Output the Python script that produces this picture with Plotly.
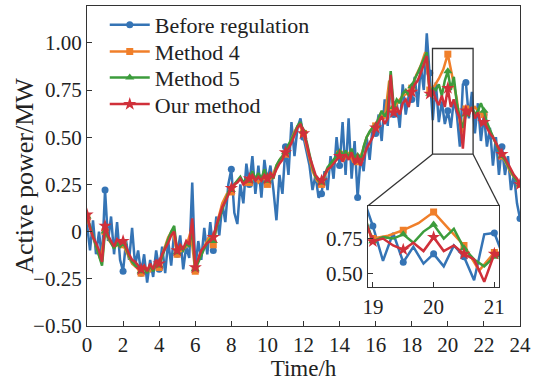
import numpy as np
import plotly.graph_objects as go

# ---- data -----------------------------------------------------------------
# Active power (MW), 10-min samples for 0..24 h (6 per hour + final point)
before_regulation = [
    0.04, -0.10, 0.06, -0.12, 0.00, -0.15,
    0.22, -0.05, 0.08, -0.12, 0.05, -0.15,
    -0.21, -0.05, -0.15, 0.02, -0.18, -0.10,
    -0.22, -0.12, -0.27, -0.15, -0.24, -0.10,
    -0.20, -0.08, -0.22, -0.05, -0.18, 0.00,
    -0.12, -0.02, -0.20, -0.08, -0.14, 0.26,
    -0.20, -0.05, -0.15, 0.02, -0.12, 0.05,
    -0.10, 0.08, -0.02, 0.15, 0.05, 0.25,
    0.33, 0.10, 0.04, 0.25, 0.15, 0.36,
    0.25, 0.40, 0.20, 0.35, 0.18, 0.38,
    0.26, 0.35, 0.22, 0.06, 0.30, 0.20,
    0.45, 0.30, 0.58, 0.40, 0.55, 0.60,
    0.50, 0.42, 0.35, 0.22, 0.30, 0.18,
    0.20, 0.32, 0.22, 0.40, 0.28, 0.50,
    0.35, 0.58, 0.30, 0.60, 0.28, 0.48,
    0.18, 0.40, 0.32, 0.50, 0.38, 0.56,
    0.52, 0.62, 0.48, 0.70, 0.56, 0.78,
    0.62, 0.68, 0.55, 0.78, 0.62, 0.72,
    0.70, 0.82, 0.66, 0.88, 0.75, 1.05,
    0.84, 0.59, 0.79, 0.58, 0.69, 0.57,
    0.64, 0.55, 0.70, 0.62, 0.45, 0.78,
    0.79, 0.60, 0.74, 0.52, 0.68, 0.48,
    0.62, 0.45, 0.55, 0.35, 0.50, 0.30,
    0.45, 0.30, 0.40, 0.22, 0.30, 0.15,
    0.07,
]

# Method 4, 15-min samples (4 per hour + final point)
method_4 = [
    0.07, 0.00, -0.08, -0.15,
    0.00, -0.05, -0.08, -0.07,
    -0.07, -0.12, -0.17, -0.19,
    -0.22, -0.19, -0.21, -0.18,
    -0.19, -0.10, -0.03, 0.01,
    -0.12, -0.10, -0.08, 0.00,
    -0.21, -0.12, -0.08, -0.03,
    -0.07, 0.06, 0.15, 0.20,
    0.21, 0.26, 0.28, 0.25,
    0.26, 0.29, 0.26, 0.29,
    0.25, 0.29, 0.35, 0.39,
    0.41, 0.47, 0.53, 0.57,
    0.52, 0.42, 0.32, 0.27,
    0.25, 0.31, 0.35, 0.38,
    0.41, 0.38, 0.42, 0.37,
    0.37, 0.42, 0.50, 0.54,
    0.56, 0.62, 0.60, 0.80,
    0.65, 0.69, 0.72, 0.73,
    0.76, 0.83, 0.88, 0.95,
    0.75, 0.77, 0.81, 0.86,
    0.94, 0.82, 0.70, 0.52,
    0.65, 0.64, 0.66, 0.63,
    0.62, 0.55, 0.50, 0.45,
    0.40, 0.36, 0.31, 0.28,
    0.25,
]

# Method 5, 10-min samples
method_5 = [
    0.08, 0.03, -0.02, -0.07, -0.12, -0.18,
    0.00, -0.03, -0.06, -0.09, -0.06, -0.08,
    -0.06, -0.09, -0.13, -0.16, -0.18, -0.19,
    -0.21, -0.19, -0.22, -0.18, -0.21, -0.16,
    -0.18, -0.13, -0.08, -0.04, 0.00, 0.03,
    -0.11, -0.08, -0.10, -0.06, -0.08, 0.02,
    -0.20, -0.16, -0.12, -0.09, -0.06, -0.04,
    -0.05, 0.02, 0.07, 0.12, 0.17, 0.21,
    0.22, 0.25, 0.27, 0.29, 0.26, 0.28,
    0.27, 0.32, 0.28, 0.31, 0.28, 0.33,
    0.27, 0.30, 0.28, 0.35, 0.38, 0.40,
    0.42, 0.46, 0.49, 0.52, 0.56, 0.58,
    0.53, 0.48, 0.41, 0.34, 0.29, 0.27,
    0.26, 0.30, 0.34, 0.36, 0.38, 0.40,
    0.42, 0.38, 0.43, 0.39, 0.44, 0.38,
    0.40, 0.37, 0.45, 0.50, 0.53, 0.55,
    0.56, 0.60, 0.64, 0.61, 0.64, 0.85,
    0.66, 0.70, 0.68, 0.73, 0.75, 0.72,
    0.77, 0.81, 0.84, 0.88, 0.92, 0.95,
    0.73, 0.76, 0.75, 0.78, 0.72, 0.80,
    0.85, 0.75, 0.82, 0.68, 0.60, 0.55,
    0.62, 0.63, 0.66, 0.62, 0.64, 0.68,
    0.64, 0.58, 0.54, 0.50, 0.46, 0.43,
    0.40, 0.38, 0.35, 0.32, 0.29, 0.27,
    0.25,
]

# Our method, 10-min samples
our_method = [
    0.09, 0.02, -0.03, -0.06, -0.10, -0.16,
    0.03, -0.02, -0.05, -0.08, -0.04, -0.06,
    -0.05, -0.08, -0.12, -0.15, -0.16, -0.18,
    -0.20, -0.18, -0.21, -0.17, -0.20, -0.15,
    -0.17, -0.12, -0.09, -0.06, -0.02, 0.00,
    -0.10, -0.07, -0.09, -0.05, -0.07, 0.07,
    -0.19, -0.14, -0.10, -0.08, -0.06, -0.05,
    -0.03, 0.03, 0.08, 0.13, 0.16, 0.20,
    0.23, 0.25, 0.26, 0.28, 0.25, 0.27,
    0.28, 0.30, 0.27, 0.29, 0.27, 0.30,
    0.28, 0.31, 0.29, 0.33, 0.36, 0.38,
    0.42, 0.44, 0.47, 0.51, 0.55, 0.57,
    0.52, 0.47, 0.40, 0.35, 0.30, 0.28,
    0.27, 0.30, 0.33, 0.34, 0.36, 0.38,
    0.40, 0.37, 0.41, 0.38, 0.42, 0.36,
    0.38, 0.35, 0.40, 0.44, 0.47, 0.50,
    0.55, 0.58, 0.61, 0.57, 0.60, 0.83,
    0.63, 0.66, 0.62, 0.68, 0.70, 0.66,
    0.74, 0.78, 0.80, 0.84, 0.88, 0.93,
    0.73, 0.75, 0.70, 0.67, 0.72, 0.66,
    0.76, 0.66, 0.70, 0.64, 0.60, 0.44,
    0.64, 0.62, 0.66, 0.60, 0.63, 0.57,
    0.58, 0.55, 0.52, 0.50, 0.47, 0.44,
    0.41, 0.39, 0.36, 0.33, 0.30, 0.28,
    0.25,
]

x_ticks = [0, 2, 4, 6, 8, 10, 12, 14, 16, 18, 20, 22, 24]
y_ticks = [-0.50, -0.25, 0, 0.25, 0.50, 0.75, 1.00]
y_tick_text = ["\u22120.50", "\u22120.25", "0", "0.25", "0.50", "0.75", "1.00"]
inset_x_ticks = [19, 20, 21]
inset_y_ticks = [0.50, 0.75]
inset_y_tick_text = ["0.50", "0.75"]

# ---- styling --------------------------------------------------------------
FONT = "Liberation Serif"
series = [
    ("Before regulation", before_regulation, 6, "#3574b5", "circle", 7),
    ("Method 4", method_4, 4, "#f07f2a", "square", 7),
    ("Method 5", method_5, 6, "#3c9c3c", "triangle-up", 8),
    ("Our method", our_method, 6, "#d0303a", "star", 10),
]
legend_ids = ["legend", "legend2", "legend3", "legend4"]
legend_rows_y = [0.941, 0.857, 0.776, 0.693]

X_MAIN = [0, 24]
Y_MAIN = [-0.5, 1.195]
X_INSET = [18.92, 21.08]
Y_INSET = [0.40, 0.986]
INSET_DOM_X = [0.649, 0.952]
INSET_DOM_Y = [0.121, 0.376]

fig = go.Figure()

for (name, vals, per_hour, color, symbol, msize), leg in zip(series, legend_ids):
    t = np.arange(len(vals)) / per_hour
    v = np.asarray(vals)
    # full-resolution line in the main axes
    fig.add_trace(go.Scatter(x=t, y=v, mode="lines", line=dict(color=color, width=2.5),
                             showlegend=False, hoverinfo="skip", xaxis="x", yaxis="y"))
    # hourly markers
    fig.add_trace(go.Scatter(x=t[::per_hour], y=v[::per_hour], mode="markers",
                             marker=dict(color=color, symbol=symbol, size=msize, line=dict(width=0)),
                             showlegend=False, hoverinfo="skip", xaxis="x", yaxis="y"))
    # legend entry (one legend box per row)
    fig.add_trace(go.Scatter(x=[None], y=[None], mode="lines+markers", name=name, legend=leg,
                             line=dict(color=color, width=2.5),
                             marker=dict(color=color, symbol=symbol, size=msize, line=dict(width=0)),
                             xaxis="x", yaxis="y"))

for name, vals, per_hour, color, symbol, msize in series:
    t = np.arange(len(vals)) / per_hour
    v = np.asarray(vals)
    half = per_hour // 2
    fig.add_trace(go.Scatter(x=t, y=v, mode="lines", line=dict(color=color, width=2.5),
                             showlegend=False, hoverinfo="skip", xaxis="x2", yaxis="y2"))
    fig.add_trace(go.Scatter(x=t[::half], y=v[::half], mode="markers",
                             marker=dict(color=color, symbol=symbol, size=msize, line=dict(width=0)),
                             showlegend=False, hoverinfo="skip", xaxis="x2", yaxis="y2",
                             cliponaxis=True))

# zoom rectangle on the main axes and connectors to the inset
rect_x = [19.15, 21.4]
rect_y = [0.41, 0.97]


def to_paper_x(t):
    return (t - X_MAIN[0]) / (X_MAIN[1] - X_MAIN[0])


def to_paper_y(v):
    return (v - Y_MAIN[0]) / (Y_MAIN[1] - Y_MAIN[0])


line_style = dict(color="#333333", width=1.3)
shapes = [
    dict(type="rect", xref="x", yref="y", x0=rect_x[0], x1=rect_x[1], y0=rect_y[0], y1=rect_y[1],
         line=line_style, fillcolor="rgba(0,0,0,0)"),
    dict(type="line", xref="paper", yref="paper",
         x0=to_paper_x(rect_x[0]), y0=to_paper_y(rect_y[0]), x1=INSET_DOM_X[0], y1=INSET_DOM_Y[1],
         line=line_style),
    dict(type="line", xref="paper", yref="paper",
         x0=to_paper_x(rect_x[1]), y0=to_paper_y(rect_y[0]), x1=INSET_DOM_X[1], y1=INSET_DOM_Y[1],
         line=line_style),
]

axis_common = dict(showline=True, mirror=True, linecolor="#333333", linewidth=1.3,
                   ticks="inside", ticklen=5, tickwidth=1.2, tickcolor="#333333",
                   showgrid=False, zeroline=False,
                   tickfont=dict(family=FONT, size=21, color="#222222"))

legend_style = dict(bgcolor="rgba(255,255,255,0)", borderwidth=0,
                    font=dict(family=FONT, size=22, color="#222222"),
                    itemwidth=40, xanchor="left", yanchor="middle", x=0.041)

layout_legends = {leg: dict(y=ly, **legend_style) for leg, ly in zip(legend_ids, legend_rows_y)}

fig.update_layout(
    width=535, height=381,
    margin=dict(l=87, r=12, t=4, b=55),
    paper_bgcolor="white", plot_bgcolor="white",
    font=dict(family=FONT, color="#222222"),
    xaxis=dict(range=X_MAIN, tickvals=x_ticks, domain=[0, 1],
               title=dict(text="Time/h", font=dict(family=FONT, size=23), standoff=4),
               **axis_common),
    yaxis=dict(range=Y_MAIN, tickvals=y_ticks, ticktext=y_tick_text, domain=[0, 1],
               **axis_common),
    xaxis2=dict(range=X_INSET, tickvals=inset_x_ticks, domain=INSET_DOM_X, anchor="y2",
                **axis_common),
    yaxis2=dict(range=Y_INSET, tickvals=inset_y_ticks, ticktext=inset_y_tick_text,
                domain=INSET_DOM_Y, anchor="x2", **axis_common),
    annotations=[dict(text="Active power/MW", textangle=-90, xref="paper", yref="paper",
                      x=-0.145, y=0.47, xanchor="center", yanchor="middle", showarrow=False,
                      font=dict(family=FONT, size=26, color="#222222"))],
    shapes=shapes,
    **layout_legends,
)

fig.write_html("out.html")
